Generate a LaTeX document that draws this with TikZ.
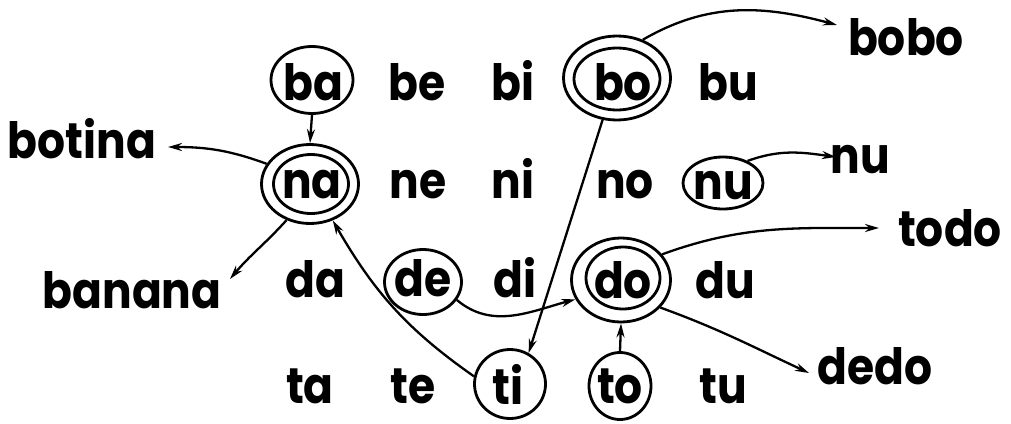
\documentclass[tikz,border=0pt]{standalone}
\usepackage{fontspec}
\setmainfont{Poppins}[FakeStretch=0.88]
\usetikzlibrary{shapes.geometric,arrows.meta}
\begin{document}
\begin{tikzpicture}[x=1pt,y=1pt,
  syl/.style={font=\fontsize{50}{50}\selectfont\bfseries, inner sep=0pt, anchor=base},
  ring/.style={ellipse, draw, line width=2.8pt, inner sep=0pt},
  conn/.style={line width=2.3pt, -{Stealth[length=14pt,width=8pt]}},
]
\useasboundingbox (0,0) rectangle (1011,-423);
% syllables
\node[syl] (ba) at (313,-100) {ba};
\node[syl] (be) at (417,-100) {be};
\node[syl] (bi) at (513,-100) {bi};
\node[syl] (bo) at (623,-100) {bo};
\node[syl] (bu) at (728,-100) {bu};
\node[syl] (na) at (312,-198) {na};
\node[syl] (ne) at (418,-198) {ne};
\node[syl] (ni) at (513,-198) {ni};
\node[syl] (no) at (625,-198) {no};
\node[syl] (nu) at (723,-199) {nu};
\node[syl] (da) at (315,-297) {da};
\node[syl] (de) at (423,-296) {de};
\node[syl] (di) at (515,-297) {di};
\node[syl] (do) at (623,-298) {do};
\node[syl] (du) at (725,-298) {du};
\node[syl] (ta) at (310,-403) {ta};
\node[syl] (te) at (413,-403) {te};
\node[syl] (ti) at (508,-404) {ti};
\node[syl] (to) at (620,-403) {to};
\node[syl] (tu) at (723,-403) {tu};
% words
\node[syl] (botina) at (82,-158) {botina};
\node[syl] (banana) at (132,-308) {banana};
\node[syl] (bobo) at (906,-55) {bobo};
\node[syl] (nuw) at (860,-173) {nu};
\node[syl] (todo) at (950,-246) {todo};
\node[syl] (dedo) at (875,-384) {dedo};
% rings
\node[ring, minimum width=82pt, minimum height=67pt] (oba) at (312,-80) {};
\node[ring, minimum width=97pt, minimum height=79pt] (ona) at (310,-184) {};
\node[ring, minimum width=75pt, minimum height=59pt] (onai) at (311,-184) {};
\node[ring, minimum width=107pt, minimum height=84pt] (obo) at (617,-78) {};
\node[ring, minimum width=86pt, minimum height=62pt] (oboi) at (617,-79) {};
\node[ring, minimum width=80pt, minimum height=52pt] (onu) at (723,-183) {};
\node[ring, minimum width=77pt, minimum height=65pt] (ode) at (423,-282) {};
\node[ring, minimum width=99pt, minimum height=84pt] (odo) at (621,-280) {};
\node[ring, minimum width=74pt, minimum height=62pt] (odoi) at (623,-278) {};
\node[ring, minimum width=71pt, minimum height=69pt] (oti) at (510,-384) {};
\node[ring, minimum width=62pt, minimum height=67pt] (oto) at (620,-386) {};
% arrow targets
\coordinate (tbotina) at (168,-147);
\coordinate (tbanana) at (230,-279);
\coordinate (tbobo) at (837,-25);
\coordinate (tnu) at (836,-157);
\coordinate (ttodo) at (879,-228);
\coordinate (tdedo) at (809,-373);
% connectors
\draw[conn] (oba.south) -- (ona.north);
\draw[conn] (ona.155) to[out=160,in=0] (tbotina);
\draw[conn] (ona.237) to[out=228,in=50] (tbanana);
\draw[conn] (oti.168) to[out=145,in=-60] (ona.-58);
\draw[conn] (obo.-109) -- (oti.59);
\draw[conn] (ode.-28) to[out=-40,in=195] (odo.203);
\draw[conn] (oto.north) -- (odo.south);
\draw[conn] (obo.56) to[out=30,in=165] (tbobo);
\draw[conn] (onu.42) to[out=20,in=172] (tnu);
\draw[conn] (odo.32) to[out=20,in=180] (ttodo);
\draw[conn] (odo.-35) to[out=-20,in=155] (tdedo);
\end{tikzpicture}
\end{document}
